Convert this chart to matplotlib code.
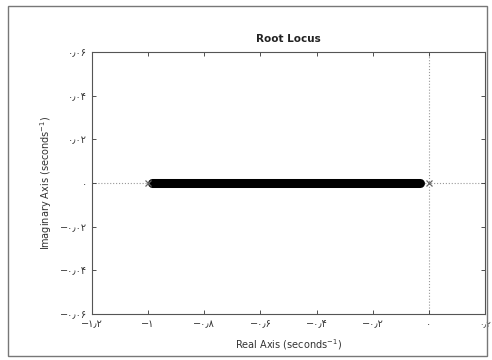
import numpy as np
import matplotlib.pyplot as plt
from matplotlib.patches import Rectangle

# root locus data
poles = [-1.0, 0.0]
locus_re = [-0.985, -0.03]
locus_im = [0.0, 0.0]
xticks = [-1.2, -1.0, -0.8, -0.6, -0.4, -0.2, 0.0, 0.2]
yticks = [-0.06, -0.04, -0.02, 0.0, 0.02, 0.04, 0.06]

fa = '۰۱۲۳۴۵۶۷۸۹'

def persian(v, nd):
    s = ('%.*f' % (nd, v)).rstrip('0').rstrip('.')
    if s in ('-0', '0', ''):
        s = '0'
    s = s.replace('.', '٫').replace('-', '−')
    return ''.join(fa[int(c)] if c.isdigit() else c for c in s)

plt.rcParams['font.family'] = ['DejaVu Sans']
fig = plt.figure(figsize=(4.92, 3.60), dpi=100)
ax = fig.add_axes([92/492, 46/360, 393/492, 262/360])

# dotted axes through origin
ax.axhline(0, color='#999999', ls=':', lw=0.8, zorder=1)
ax.axvline(0, color='#999999', ls=':', lw=0.8, zorder=1)

ax.plot(locus_re, locus_im, color='black', lw=6.5, solid_capstyle='round', zorder=3)
ax.plot(poles, [0, 0], 'x', color='#666666', ms=4, mew=0.9, zorder=4)

ax.set_xlim(-1.2, 0.2)
ax.set_ylim(-0.06, 0.06)
ax.set_xticks(xticks)
ax.set_yticks(yticks)
ax.set_xticklabels([persian(v, 1) for v in xticks])
ax.set_yticklabels([persian(v, 2) for v in yticks])
ax.tick_params(direction='in', length=3, width=0.6, labelsize=7, colors='#333333',
               top=True, right=True)
ax.get_xticklabels()[-1].set_fontsize(6)
for s in ax.spines.values():
    s.set_color('#555555')
    s.set_linewidth(0.8)

ax.set_title('Root Locus', fontsize=7.5, fontweight='bold', color='#222222', pad=7)
ax.set_xlabel('Real Axis (seconds$^{-1}$)', fontsize=7, color='#333333', labelpad=6)
ax.set_ylabel('Imaginary Axis (seconds$^{-1}$)', fontsize=7, color='#333333', labelpad=4)

# page border of the scan
fig.patches.append(Rectangle((8/492, 4/360), 479/492, 350/360, transform=fig.transFigure,
                             fill=False, ec='#777777', lw=1.0))

fig.savefig('out.png', dpi=100)
